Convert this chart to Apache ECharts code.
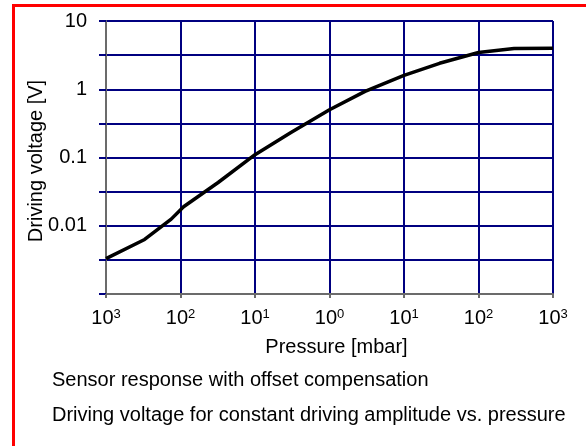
<!DOCTYPE html>
<html>
<head>
<meta charset="utf-8">
<script src="https://cdn.jsdelivr.net/npm/echarts@6/dist/echarts.min.js"></script>
<style>
  html, body { margin: 0; padding: 0; background: #fff; }
  #chart { width: 586px; height: 446px; }
</style>
</head>
<body>
<div id="chart"></div>
<script>
  // pressure [mbar] and driving voltage [V]
  const pressure = [0.001, 0.0033, 0.0075, 0.011, 0.032, 0.1, 0.3, 1, 3, 10, 30, 100, 300, 1000];
  const voltage = [0.0033, 0.0063, 0.0125, 0.019, 0.043, 0.11, 0.23, 0.5, 0.93, 1.6, 2.4, 3.45, 3.95, 4.0];

  // tick labels (exponent shown as superscript, as printed in the source)
  const xTickValues = [-3, -2, -1, 0, 1, 2, 3];
  const xTickSup = ['3', '2', '1', '0', '1', '2', '3'];
  const yTickValues = [-2, -1, 0, 1];
  const yTickText = ['0.01', '0.1', '1', '10'];

  const captions = [
    'Sensor response with offset compensation',
    'Driving voltage for constant driving amplitude vs. pressure'
  ];

  const FONT = "'Liberation Sans', Arial, sans-serif";
  const NAVY = '#000080';
  const AXIS_GRAY = '#6b6b6b';

  const chart = echarts.init(document.getElementById('chart'), null, { renderer: 'canvas' });

  // log10 of the values, plotted on linear value axes
  const lineData = pressure.map((p, i) => [Math.log10(p), Math.log10(voltage[i])]);

  chart.setOption({
    animation: false,
    backgroundColor: '#fff',
    textStyle: { fontFamily: FONT },
    grid: { left: 106, right: 33, top: 21, bottom: 152, containLabel: false },
    xAxis: {
      type: 'value',
      min: -3, max: 3, interval: 1,
      axisLine: { onZero: false, lineStyle: { color: AXIS_GRAY, width: 2 } },
      axisTick: { show: true, length: 4, lineStyle: { color: AXIS_GRAY, width: 2 } },
      splitLine: { show: true, lineStyle: { color: NAVY, width: 2 } },
      axisLabel: {
        margin: 14,
        formatter: function (v) {
          const i = xTickValues.indexOf(Math.round(v));
          return i < 0 ? '' : '{b|10}{s|' + xTickSup[i] + '}';
        },
        rich: {
          b: { fontSize: 20, fontFamily: FONT, color: '#000', lineHeight: 20 },
          s: { fontSize: 13, fontFamily: FONT, color: '#000', verticalAlign: 'top', lineHeight: 12 }
        }
      },
      name: 'Pressure [mbar]',
      nameLocation: 'middle',
      nameGap: 43,
      nameMoveOverlap: false,
      nameTextStyle: { fontSize: 20, color: '#000', fontFamily: FONT, padding: [0, 0, 0, 14] }
    },
    yAxis: {
      type: 'value',
      min: -3, max: 1, interval: 0.5,
      axisLine: { onZero: false, lineStyle: { color: AXIS_GRAY, width: 2 } },
      axisTick: { show: true, length: 7, lineStyle: { color: NAVY, width: 2 } },
      splitLine: { show: true, lineStyle: { color: NAVY, width: 2 } },
      axisLabel: {
        margin: 19,
        fontSize: 20,
        color: '#000',
        fontFamily: FONT,
        formatter: function (v) {
          const i = yTickValues.indexOf(v);
          return i < 0 ? '' : yTickText[i];
        }
      },
      name: 'Driving voltage [V]',
      nameLocation: 'middle',
      nameGap: 60,
      nameMoveOverlap: false,
      nameTextStyle: { fontSize: 20, color: '#000', fontFamily: FONT, padding: [0, 7, 0, 0] }
    },
    series: [{
      type: 'line',
      data: lineData,
      showSymbol: false,
      smooth: false,
      lineStyle: { color: '#000', width: 3.5 },
      z: 5
    }],
    graphic: [
      {
        type: 'rect',
        shape: { x: 13.5, y: 5.5, width: 620, height: 500 },
        style: { fill: 'none', stroke: '#ff0000', lineWidth: 3 },
        silent: true
      },
      {
        type: 'text', left: 52, top: 370,
        style: { text: captions[0], font: '20px ' + FONT, fill: '#000' }
      },
      {
        type: 'text', left: 52, top: 405,
        style: { text: captions[1], font: '20px ' + FONT, fill: '#000' }
      }
    ]
  });
</script>
</body>
</html>
